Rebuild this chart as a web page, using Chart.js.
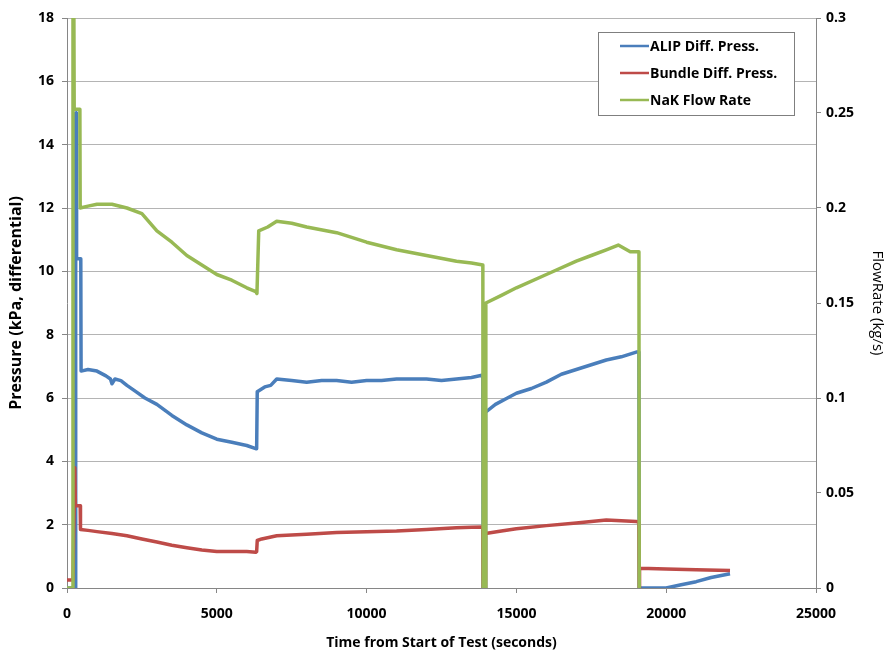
<!DOCTYPE html>
<html>
<head>
<meta charset="utf-8">
<script src="https://cdn.jsdelivr.net/npm/chart.js@4"></script>
<style>
  html, body { margin: 0; padding: 0; background: #ffffff; }
  #wrap { width: 886px; height: 654px; }
</style>
</head>
<body>
<div id="wrap"><canvas id="c" width="886" height="654"></canvas></div>
<script>
// ALIP differential pressure (kPa) vs time (s)
const alipTime = [0, 280, 290, 310, 320, 460, 470, 700, 1000, 1300, 1450, 1500, 1600, 1800, 2000, 2300, 2600, 3000, 3500, 4000, 4500, 5000, 5500, 6000, 6300, 6330, 6350, 6600, 6800, 7000, 7500, 8000, 8500, 9000, 9500, 10000, 10500, 11000, 11500, 12000, 12500, 13000, 13500, 13850, 13880, 13890, 13960, 13970, 14300, 14700, 15000, 15500, 16000, 16500, 17000, 17500, 18000, 18500, 19000, 19090, 19100, 20000, 20500, 21000, 21500, 22130];
const alipKPa = [0, 0, 15.0, 15.0, 10.4, 10.4, 6.85, 6.9, 6.85, 6.7, 6.6, 6.45, 6.6, 6.55, 6.4, 6.2, 6.0, 5.8, 5.45, 5.15, 4.9, 4.7, 4.6, 4.5, 4.4, 4.4, 6.2, 6.35, 6.4, 6.6, 6.55, 6.5, 6.55, 6.55, 6.5, 6.55, 6.55, 6.6, 6.6, 6.6, 6.55, 6.6, 6.65, 6.72, 6.72, 0, 0, 5.55, 5.8, 6.0, 6.15, 6.3, 6.5, 6.75, 6.9, 7.05, 7.2, 7.3, 7.45, 7.45, 0, 0, 0.1, 0.2, 0.33, 0.45];

// Bundle differential pressure (kPa) vs time (s)
const bundleTime = [0, 200, 260, 280, 440, 450, 700, 1000, 1500, 2000, 2500, 3000, 3500, 4000, 4500, 5000, 5500, 6000, 6300, 6330, 6350, 6500, 7000, 8000, 9000, 10000, 11000, 12000, 13000, 13500, 13880, 13890, 13960, 13970, 14500, 15000, 16000, 17000, 17500, 18000, 18500, 19000, 19090, 19100, 19110, 20000, 21000, 22130];
const bundleKPa = [0.25, 0.25, 3.8, 2.6, 2.6, 1.85, 1.82, 1.78, 1.72, 1.65, 1.55, 1.45, 1.35, 1.27, 1.2, 1.15, 1.15, 1.15, 1.13, 1.15, 1.5, 1.55, 1.65, 1.7, 1.75, 1.78, 1.8, 1.85, 1.9, 1.92, 1.93, 0, 0, 1.72, 1.8, 1.87, 1.97, 2.05, 2.1, 2.15, 2.12, 2.1, 2.08, 0, 0.62, 0.6, 0.58, 0.55];

// NaK flow rate (kg/s) vs time (s)
const flowTime = [0, 190, 200, 230, 240, 430, 440, 700, 1000, 1500, 2000, 2500, 3000, 3500, 4000, 4500, 5000, 5500, 6000, 6300, 6340, 6400, 6700, 7000, 7500, 8000, 9000, 10000, 11000, 12000, 13000, 13500, 13880, 13890, 13970, 13980, 14500, 15000, 16000, 17000, 17500, 18000, 18400, 18800, 19000, 19090, 19100];
const flowKgs = [0, 0, 0.3, 0.3, 0.252, 0.252, 0.2, 0.201, 0.202, 0.202, 0.2, 0.197, 0.188, 0.182, 0.175, 0.17, 0.165, 0.162, 0.158, 0.156, 0.155, 0.188, 0.19, 0.193, 0.192, 0.19, 0.187, 0.182, 0.178, 0.175, 0.172, 0.171, 0.17, 0, 0, 0.15, 0.154, 0.158, 0.165, 0.172, 0.175, 0.178, 0.1805, 0.177, 0.177, 0.177, 0];

const seriesNames = ['ALIP Diff. Press.', 'Bundle Diff. Press.', 'NaK Flow Rate'];
const seriesColors = ['#4a7ebb', '#be4b48', '#98b954'];

const pressureTicks = [0, 2, 4, 6, 8, 10, 12, 14, 16, 18];
const flowTicks = [0, 0.05, 0.1, 0.15, 0.2, 0.25, 0.3];
const timeTicks = [0, 5000, 10000, 15000, 20000, 25000];

const FONT = "'Open Sans', 'Liberation Sans', sans-serif";

function toPoints(xs, ys) {
  return xs.map((x, i) => ({ x: x, y: ys[i] }));
}

// Boxed legend drawn inside the plot area, upper right
const boxedLegend = {
  id: 'boxedLegend',
  afterDatasetsDraw(chart) {
    const ctx = chart.ctx;
    const x0 = 598, y0 = 32, w = 196, h = 83;
    ctx.save();
    ctx.fillStyle = '#ffffff';
    ctx.fillRect(x0, y0, w, h);
    ctx.strokeStyle = '#7f7f7f';
    ctx.lineWidth = 1;
    ctx.strokeRect(x0 + 0.5, y0 + 0.5, w, h);
    ctx.font = "bold 14px " + FONT;
    ctx.textBaseline = 'middle';
    ctx.textAlign = 'left';
    const rows = [46, 73, 100];
    chart.data.datasets.forEach((ds, i) => {
      ctx.strokeStyle = ds.borderColor;
      ctx.lineWidth = 2.5;
      ctx.beginPath();
      ctx.moveTo(620, rows[i]);
      ctx.lineTo(649, rows[i]);
      ctx.stroke();
      ctx.fillStyle = '#000000';
      ctx.fillText(ds.label, 650, rows[i] + 1);
    });
    ctx.restore();
  }
};

const tickFont = { family: FONT, size: 14, weight: 'bold' };

new Chart(document.getElementById('c'), {
  type: 'scatter',
  data: {
    datasets: [
      { label: seriesNames[0], data: toPoints(alipTime, alipKPa), yAxisID: 'y', borderColor: seriesColors[0], backgroundColor: seriesColors[0], order: 3 },
      { label: seriesNames[1], data: toPoints(bundleTime, bundleKPa), yAxisID: 'y', borderColor: seriesColors[1], backgroundColor: seriesColors[1], order: 2 },
      { label: seriesNames[2], data: toPoints(flowTime, flowKgs), yAxisID: 'y2', borderColor: seriesColors[2], backgroundColor: seriesColors[2], order: 1 }
    ].map(d => Object.assign(d, { showLine: true, pointRadius: 0, borderWidth: 3.5, tension: 0, borderJoinStyle: 'round' }))
  },
  options: {
    responsive: false,
    animation: false,
    events: [],
    layout: { padding: { top: 18, left: 0, right: 0, bottom: 0 } },
    plugins: { legend: { display: false }, tooltip: { enabled: false } },
    scales: {
      x: {
        type: 'linear', position: 'bottom', min: 0, max: 25000,
        afterBuildTicks: s => { s.ticks = timeTicks.map(v => ({ value: v })); },
        afterFit: s => { s.height = 66; },
        grid: { drawOnChartArea: false, drawTicks: true, tickLength: 5, tickColor: '#868686' },
        border: { display: true, color: '#868686', width: 1 },
        ticks: { color: '#000', font: tickFont, padding: 13, maxRotation: 0, callback: v => String(v) },
        title: { display: true, text: 'Time from Start of Test (seconds)', color: '#000', font: { family: FONT, size: 14, weight: 'bold' }, padding: { top: 0, bottom: 3 } }
      },
      y: {
        type: 'linear', position: 'left', min: 0, max: 18,
        afterBuildTicks: s => { s.ticks = pressureTicks.map(v => ({ value: v })); },
        afterFit: s => { s.width = 67; },
        grid: { color: '#b4b4b4', tickColor: '#868686', tickLength: 5, lineWidth: 1 },
        border: { display: true, color: '#868686', width: 1 },
        ticks: { color: '#000', font: tickFont, padding: 8 },
        title: { display: true, text: 'Pressure (kPa, differential)', color: '#000', font: { family: FONT, size: 16, weight: 'bold' }, padding: { top: 7, bottom: 0 } }
      },
      y2: {
        type: 'linear', position: 'right', min: 0, max: 0.3,
        afterBuildTicks: s => { s.ticks = flowTicks.map(v => ({ value: v })); },
        afterFit: s => { s.width = 70; },
        grid: { drawOnChartArea: false, tickColor: '#868686', tickLength: 5 },
        border: { display: true, color: '#868686', width: 1 },
        ticks: { color: '#000', font: tickFont, padding: 5, callback: v => String(v) },
        title: { display: true, text: 'FlowRate (kg/s)', color: '#000', font: { family: FONT, size: 15 }, padding: { top: 0, bottom: 0 } }
      }
    }
  },
  plugins: [boxedLegend]
});
</script>
</body>
</html>
